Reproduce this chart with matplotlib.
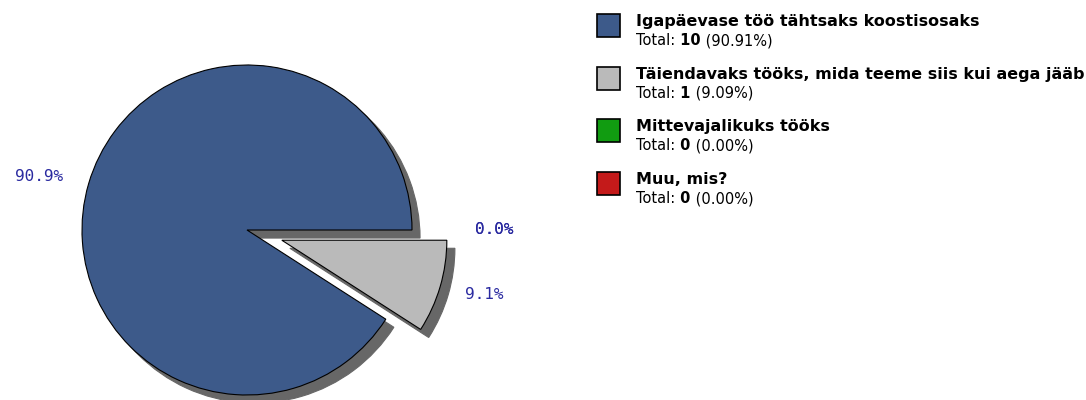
import numpy as np
import matplotlib
matplotlib.use("Agg")
from matplotlib import pyplot as plt
from matplotlib.patches import Rectangle, Shadow

#%% datos
categorias = ["Igapäevase töö tähtsaks koostisosaks",
              "Täiendavaks tööks, mida teeme siis kui aega jääb",
              "Mittevajalikuks tööks",
              "Muu, mis?"]
totales = [10, 1, 0, 0]
colores = ["#3d5a8a", "#bababa", "#119c11", "#c41a1a"]

porc = np.array(totales) / np.sum(totales) * 100
etiquetas = ["%.1f%%" % p for p in porc]

#%% figura en pixeles (1086x400)
W, H = 1086, 400
fig = plt.figure(figsize=(W / 100, H / 100), dpi=100)
ax = fig.add_axes([0, 0, 1, 1])

R = 165
cx, cy = 247, H - 230
#el explode de pie va en unidades de datos, no relativo al radio
wedges, texts = ax.pie(totales, colors=colores, center=(cx, cy), radius=R,
                       explode=[0, 0.22 * R, 0.22 * R, 0.22 * R], startangle=0,
                       labels=etiquetas, labeldistance=1.16,
                       wedgeprops=dict(edgecolor="black", linewidth=0.8),
                       shadow=dict(ox=5.8, oy=-5.8, facecolor="#676767",
                                   edgecolor="#676767", alpha=1),
                       textprops=dict(family="DejaVu Sans Mono", fontsize=11.5,
                                      color="#2a2aa0"))
#alineacion segun el lado del centro (pie mira el signo de x absoluto)
for t in texts:
    t.set_ha("left" if t.get_position()[0] > cx else "right")

#las porciones con 0 dibujan una linea y sombra, las escondo
for w, v in zip(wedges, totales):
    if v == 0:
        w.set_visible(False)
for p in ax.patches:
    if isinstance(p, Shadow) and not p.patch.get_visible():
        p.set_visible(False)

ax.set_xlim(0, W)
ax.set_ylim(0, H)
ax.set_aspect("equal")
ax.axis("off")

#%% leyenda hecha a mano
x0, y0, paso = 597, 14, 52.7
for i in range(len(categorias)):
    top = y0 + i * paso
    ax.add_patch(Rectangle((x0, H - top - 23), 23, 23, facecolor=colores[i],
                           edgecolor="black", linewidth=1.2))
    ax.text(636, H - (top + 12), categorias[i], fontsize=11.5, fontweight="bold",
            color="black", va="baseline", ha="left")
    t1 = ax.text(636, H - (top + 31), "Total:", fontsize=10.5, va="baseline", ha="left")
    t2 = ax.annotate(" %d" % totales[i], xy=(1, 0), xycoords=t1, fontsize=10.5,
                     fontweight="bold", va="bottom", ha="left")
    ax.annotate(" (%.2f%%)" % porc[i], xy=(1, 0), xycoords=t2, fontsize=10.5,
                va="bottom", ha="left")

plt.savefig("out.png", dpi=100)
